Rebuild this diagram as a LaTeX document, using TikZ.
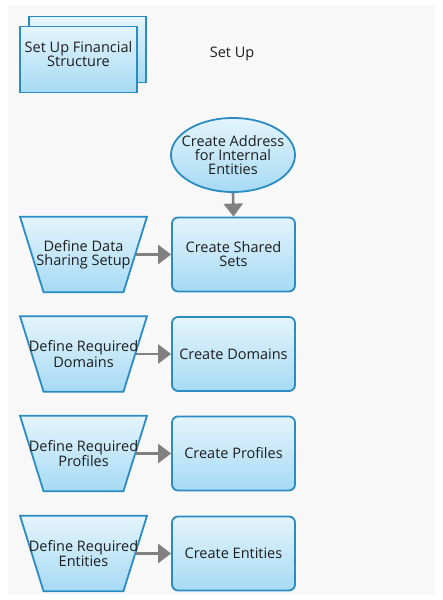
\documentclass[tikz,border=0pt]{standalone}
\usepackage{fontspec}
\setmainfont{Open Sans}
\usetikzlibrary{shapes.geometric,arrows.meta,calc}
\definecolor{topc}{HTML}{E4F4FC}
\definecolor{botc}{HTML}{A6DAF4}
\definecolor{bordc}{HTML}{2B8CC4}
\definecolor{arrc}{HTML}{808080}
\definecolor{txtc}{HTML}{1E1E1E}
\definecolor{bgc}{HTML}{F8F8F8}
\pgfdeclarelayer{bg}
\pgfsetlayers{bg,main}
\newcommand{\lblfont}{\fontsize{14.5}{14}\selectfont}
\tikzset{
  bluefill/.style={top color=topc, bottom color=botc, draw=bordc, line width=1.8pt},
  procbox/.style={bluefill, rounded corners=6pt, minimum width=123pt, minimum height=74pt,
    align=center, font=\lblfont, text=txtc, inner sep=2pt},
  stackbox/.style={bluefill, minimum width=117pt, minimum height=66pt},
  addrell/.style={bluefill, ellipse, minimum width=124pt, minimum height=74pt, inner sep=0pt},
  trapholder/.style={minimum width=103pt, minimum height=75pt, inner sep=0pt},
  trapshape/.style={bluefill},
  flowarrow/.style={draw=arrc, line width=2.6pt, -{Triangle[length=13pt,width=19pt]}},
  plaintext/.style={align=center, font=\lblfont, text=txtc, inner sep=0pt}
}
\begin{document}
\begin{tikzpicture}[x=1pt,y=1pt]
\useasboundingbox (0,0) rectangle (443,600);

% Set Up Financial Structure (stacked)
\node[stackbox] (finback) at (87.5,550.5) {};
\node[stackbox] (fin) at (78.5,540.5) {};
\node[plaintext] (fintxt) at (78.5,546) {Set Up Financial\\Structure};

\node[plaintext] (setup) at (232,546) {Set Up};

% Address ellipse
\node[addrell] (addr) at (233,445) {};
\node[plaintext] (addrtxt) at (addr.center) {Create Address\\for Internal\\Entities};

% Process boxes
\node[procbox] (b1) at (233.5,345.5) {Create Shared\\Sets};
\node[procbox] (b2) at (233.5,246) {Create Domains};
\node[procbox] (b3) at (233.5,146.5) {Create Profiles};
\node[procbox] (b4) at (233.5,46.5) {Create Entities};

% Trapezoid holders
\node[trapholder] (d1) at (83.5,345.5) {};
\node[trapholder] (d2) at (83.5,246) {};
\node[trapholder] (d3) at (83.5,146.5) {};
\node[trapholder] (d4) at (83.5,46.5) {};
\node[plaintext] (d1txt) at (d1.center) {Define Data\\Sharing Setup};
\node[plaintext] (d2txt) at (d2.center) {Define Required\\Domains};
\node[plaintext] (d3txt) at (d3.center) {Define Required\\Profiles};
\node[plaintext] (d4txt) at (d4.center) {Define Required\\Entities};

\begin{pgfonlayer}{bg}
\fill[white] (0,0) rectangle (443,600);
\fill[bgc] (8,5) rectangle (435,595);
\foreach \nn in {d1,d2,d3,d4}{
  \path[trapshape] ($(\nn.north west)+(-11.75,0)$) -- ($(\nn.north east)+(11.75,0)$)
    -- ($(\nn.south east)+(-11.75,0)$) -- ($(\nn.south west)+(11.75,0)$) -- cycle;
}
\end{pgfonlayer}

% Arrows
\draw[flowarrow] (addr.south) -- (b1.north);
\draw[flowarrow] (d1.east) -- (b1.west);
\draw[flowarrow] (d2.east) -- (b2.west);
\draw[flowarrow] (d3.east) -- (b3.west);
\draw[flowarrow] (d4.east) -- (b4.west);
\end{tikzpicture}
\end{document}
